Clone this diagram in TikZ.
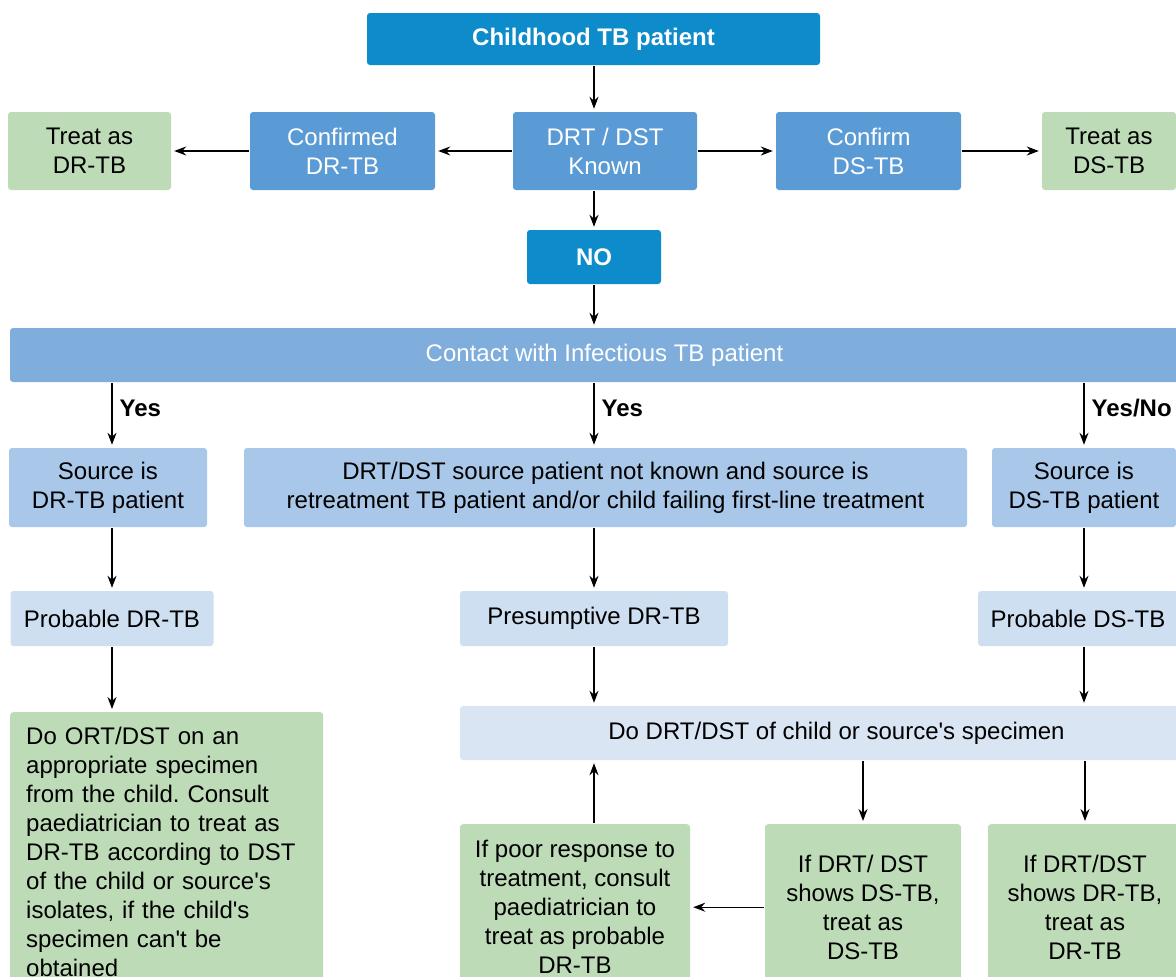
\documentclass[tikz,border=0pt]{standalone}
\usepackage{fontspec}
\setmainfont{Liberation Sans}
\usetikzlibrary{arrows.meta}
\definecolor{dunkelblau}{HTML}{0E8BCB}
\definecolor{mittelblau}{HTML}{5B9BD5}
\definecolor{kontaktblau}{HTML}{7FAEDD}
\definecolor{hellblau}{HTML}{A9C7E8}
\definecolor{blassblau}{HTML}{CFDFF2}
\definecolor{blasserblau}{HTML}{DAE5F4}
\definecolor{gruen}{HTML}{BEDBB8}
\frenchspacing
\begin{document}
\begin{tikzpicture}[x=1pt,y=-1pt]
\tikzset{kasten/.style={rounded corners=3pt,inner sep=0pt,align=center,font=\fontsize{24}{29}\selectfont},
dunkel/.style={kasten,fill=dunkelblau,text=white,font=\fontsize{24}{29}\selectfont\bfseries},
mittel/.style={kasten,fill=mittelblau,text=white},
kontakt/.style={kasten,fill=kontaktblau,text=white},
hell/.style={kasten,fill=hellblau},
blass/.style={kasten,fill=blassblau},
blasser/.style={kasten,fill=blasserblau},
gruenbox/.style={kasten,fill=gruen},
ja/.style={anchor=west,xshift=7pt,inner sep=0pt,font=\fontsize{24}{29}\selectfont\bfseries},
pfeil/.style={-{Stealth[length=12pt,width=9pt]},line width=1.3pt,shorten <=1pt,shorten >=3pt}}
\useasboundingbox (0,0) rectangle (1176,977);
\clip (0,0) rectangle (1176,977);
\node [dunkel,minimum width=453pt,minimum height=52pt] (kind) at (593.5,39) {Childhood TB patient};
\node [gruenbox,minimum width=163pt,minimum height=78pt] (tdr) at (89.5,151) {Treat as\\DR-TB};
\node [mittel,minimum width=185pt,minimum height=78pt] (cdr) at (342.5,151) {Confirmed\\DR-TB};
\node [mittel,minimum width=184pt,minimum height=78pt] (dst) at (605,151) {DRT / DST\\Known};
\node [mittel,minimum width=185pt,minimum height=78pt] (cds) at (868.5,151) {Confirm\\DS-TB};
\node [gruenbox,minimum width=134pt,minimum height=78pt] (tds) at (1109,151) {Treat as\\DS-TB};
\node [dunkel,minimum width=134pt,minimum height=54pt] (no) at (594,257) {NO};
\node [kontakt,minimum width=1189pt,minimum height=54pt] (kontakt) at (604.5,355) {Contact with Infectious TB patient};
\node [hell,minimum width=198pt,minimum height=79pt] (sdr) at (108,487.5) {Source is\\DR-TB patient};
\node [hell,minimum width=723pt,minimum height=79pt] (unbek) at (605.5,487.5) {DRT/DST source patient not known and source is\\retreatment TB patient and/or child failing first-line treatment};
\node [hell,minimum width=184pt,minimum height=79pt] (sds) at (1084,487.5) {Source is\\DS-TB patient};
\node [blass,minimum width=203pt,minimum height=55pt] (pdr) at (112,618.5) {Probable DR-TB};
\node [blass,minimum width=268pt,minimum height=55pt] (pres) at (594,618.5) {Presumptive DR-TB};
\node [blass,minimum width=200pt,minimum height=55pt] (pds) at (1078,618.5) {Probable DS-TB};
\node [gruenbox,anchor=north west,text width=281pt,inner xsep=16pt,align=left,minimum height=280pt] (ort) at (10,712) {Do ORT/DST on an\\appropriate specimen\\from the child. Consult\\paediatrician to treat as\\DR-TB according to DST\\of the child or source\textquotesingle s\\isolates, if the child\textquotesingle s\\specimen can\textquotesingle t be\\obtained};
\node [blasser,minimum width=753pt,minimum height=54pt] (dodrt) at (836.5,733) {Do DRT/DST of child or source\textquotesingle s specimen};
\node [gruenbox,anchor=north,minimum width=230pt,minimum height=166pt] (poor) at (575,824) {If poor response to\\treatment, consult\\paediatrician to\\treat as probable\\DR-TB};
\node [gruenbox,anchor=north,minimum width=196pt,minimum height=166pt] (zds) at (863,824) {If DRT/ DST\\shows DS-TB,\\treat as\\DS-TB};
\node [gruenbox,anchor=north,minimum width=194pt,minimum height=166pt] (zdr) at (1085,824) {If DRT/DST\\shows DR-TB,\\treat as\\DR-TB};
\draw[pfeil] (kind.south -| no) to (dst.north -| no);
\draw[pfeil] (dst.south -| no) to (no.north);
\draw[pfeil] (no.south) to (kontakt.north -| no);
\draw[pfeil] (dst.west) to (cdr.east);
\draw[pfeil] (cdr.west) to (tdr.east);
\draw[pfeil] (dst.east) to (cds.west);
\draw[pfeil] (cds.east) to (tds.west);
\draw[pfeil] (kontakt.south -| pdr) to node[ja,pos=0.4] {Yes} (sdr.north -| pdr);
\draw[pfeil] (kontakt.south -| pres) to node[ja,pos=0.4] {Yes} (unbek.north -| pres);
\draw[pfeil] (kontakt.south -| sds) to node[ja,pos=0.4] {Yes/No} (sds.north);
\draw[pfeil] (sdr.south -| pdr) to (pdr.north);
\draw[pfeil] (unbek.south -| pres) to (pres.north);
\draw[pfeil] (sds.south) to (pds.north -| sds);
\draw[pfeil] (pdr.south) to (ort.north -| pdr);
\draw[pfeil] (pres.south) to (dodrt.north -| pres);
\draw[pfeil] (pds.south -| sds) to (dodrt.north -| sds);
\draw[pfeil] (dodrt.south -| zds) to (zds.north);
\draw[pfeil] (dodrt.south -| zdr) to (zdr.north);
\draw[pfeil] (poor.north -| pres) to (dodrt.south -| pres);
\draw[pfeil] (zds.west) to (poor.east);
\end{tikzpicture}
\end{document}
